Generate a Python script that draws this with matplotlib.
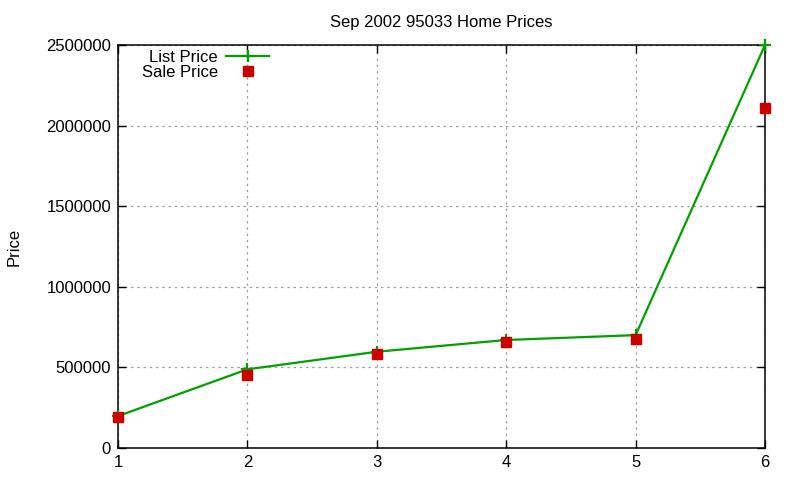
import matplotlib.pyplot as plt
from matplotlib.ticker import MultipleLocator

plt.rcParams['font.family'] = ['Liberation Sans', 'DejaVu Sans']

# data
homes = [1, 2, 3, 4, 5, 6]
list_price = [198000, 488000, 597000, 670000, 700000, 2500000]
sale_price = [195000, 450000, 586000, 660000, 675000, 2112000]

fig = plt.figure(figsize=(8, 4.8), dpi=100)
ax = fig.add_axes([0.1475, 0.0667, 0.80875, 0.8396])

ax.plot(homes, list_price, color='#00a000', linewidth=1.6, marker='+',
        markersize=9, markeredgewidth=1.6, label='List Price', zorder=3,
        clip_on=False)
ax.plot(homes, sale_price, linestyle='none', color='#cc0000', marker='s',
        markersize=6.5, label='Sale Price', zorder=4, clip_on=False)

ax.set_xlim(1, 6)
ax.set_ylim(0, 2500000)
ax.xaxis.set_major_locator(MultipleLocator(1))
ax.yaxis.set_major_locator(MultipleLocator(500000))
ax.ticklabel_format(axis='y', style='plain', useOffset=False)

ax.grid(True, color='#a0a0a0', linestyle=(0, (2, 3)), linewidth=0.9)
ax.tick_params(direction='in', top=True, right=True, length=6, width=1,
               labelsize=12, pad=5)
for s in ax.spines.values():
    s.set_linewidth(1.1)

ax.set_title('Sep 2002 95033 Home Prices', fontsize=12, pad=13)
ax.set_ylabel('Price', fontsize=12, labelpad=18)

leg = ax.legend(loc='upper left', bbox_to_anchor=(0.021, 1.013), frameon=False,
                markerfirst=False, fontsize=12, handlelength=2.6,
                handletextpad=0.5, labelspacing=0.0, borderaxespad=0.2)
for t in leg.get_texts():
    t.set_ha('right')

fig.savefig('out.png', dpi=100)
